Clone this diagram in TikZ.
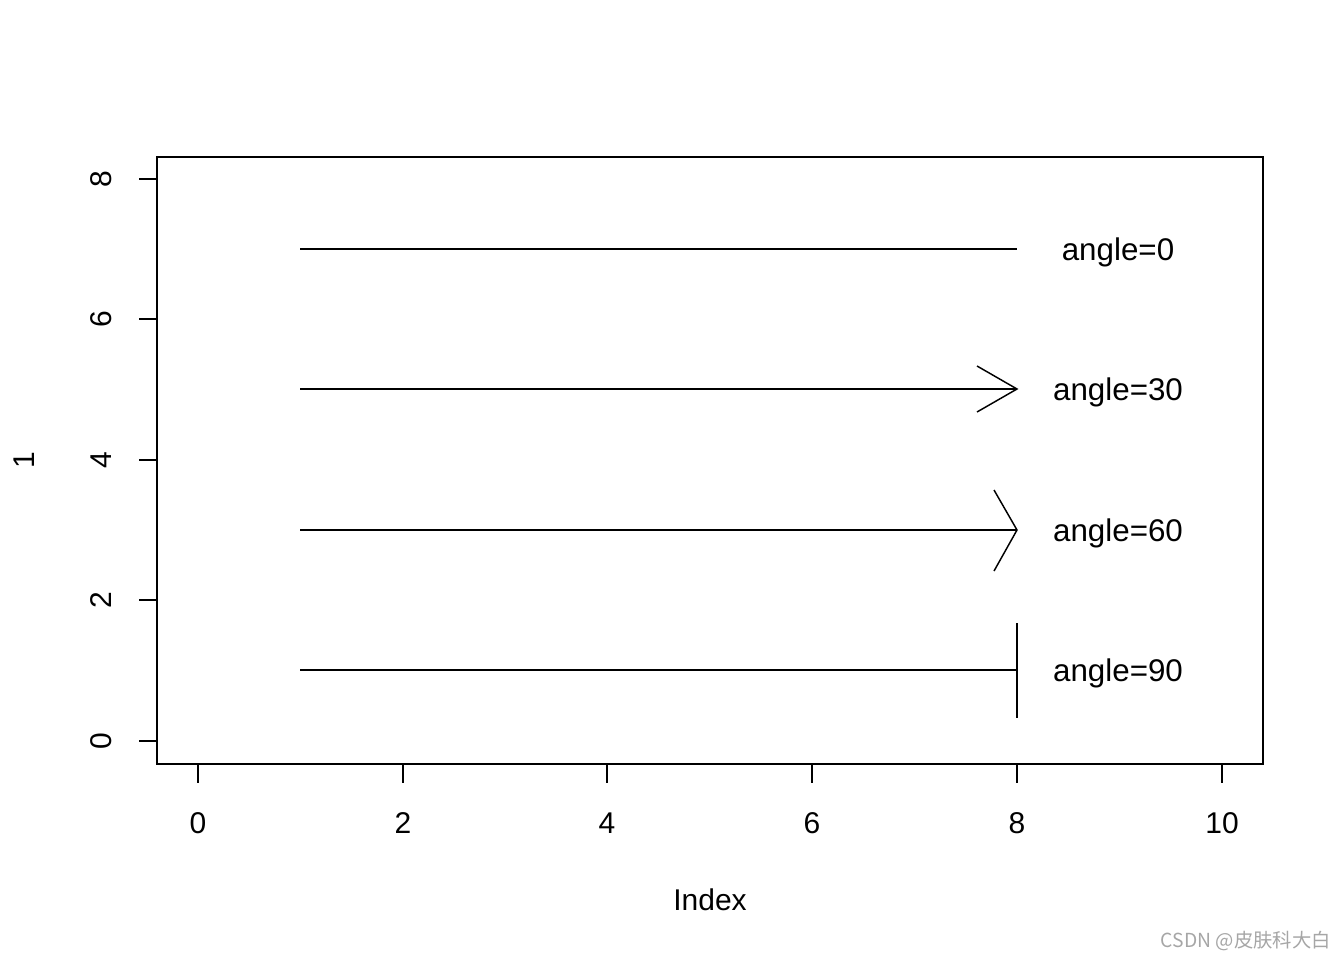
\documentclass[tikz,border=0pt]{standalone}
\usepackage{fontspec}
\setmainfont{Liberation Sans}
\newfontfamily\cjk{Noto Sans CJK SC}
\begin{document}
\begin{tikzpicture}[x=0.75pt,y=-0.75pt,
  seg/.style={line width=1.1pt},
  lab/.style={font=\fontsize{23.5}{28}\selectfont,inner sep=0pt},
  tickl/.style={font=\fontsize{22.5}{27}\selectfont,inner sep=0pt}]
\useasboundingbox (0,0) rectangle (1344,960);
% plot box
\draw[line width=1.1pt] (157,157) rectangle (1263,764);
% x axis ticks and labels
\foreach \v/\px in {0/198,2/403,4/607,6/812,8/1017,10/1222}{
  \draw[seg] (\px,764) -- (\px,783);
  \node[tickl] (xt\v) at (\px,823) {\v};
}
% y axis ticks and labels
\foreach \v/\py in {0/741,2/600,4/460,6/319,8/179}{
  \draw[seg] (157,\py) -- (139,\py);
  \node[tickl,rotate=90] (yt\v) at (101,\py) {\v};
}
\node[tickl] (xlab) at (710,900) {Index};
\node[tickl,rotate=90] (ylab) at (24,460) {1};
% segments
\coordinate (s0) at (300,249); \coordinate (e0) at (1017,249);
\coordinate (s1) at (300,389); \coordinate (e1) at (1017,389);
\coordinate (s2) at (300,530); \coordinate (e2) at (1017,530);
\coordinate (s3) at (300,670); \coordinate (e3) at (1017,670);
\draw[seg] (s0) -- (e0);
\draw[seg] (s1) -- (e1);
\draw[seg] (s2) -- (e2);
\draw[seg] (s3) -- (e3);
% heads
\coordinate (h1a) at (977,366); \coordinate (h1b) at (977,412);
\draw[seg] (h1a) -- (e1) -- (h1b);
\coordinate (h2a) at (994,490); \coordinate (h2b) at (994,571);
\draw[seg] (h2a) -- (e2) -- (h2b);
\coordinate (h3a) at (1017,623); \coordinate (h3b) at (1017,718);
\draw[seg] (h3a) -- (h3b);
% labels
\node[lab] (l0) at (1118,252) {angle=0};
\node[lab] (l1) at (1118,392) {angle=30};
\node[lab] (l2) at (1118,533) {angle=60};
\node[lab] (l3) at (1118,673) {angle=90};
% watermark
\node[font=\cjk\fontsize{14.5}{17}\selectfont,text=black!35,anchor=east,inner sep=0pt] (wm) at (1331,941) {CSDN @皮肤科大白};
\end{tikzpicture}
\end{document}
